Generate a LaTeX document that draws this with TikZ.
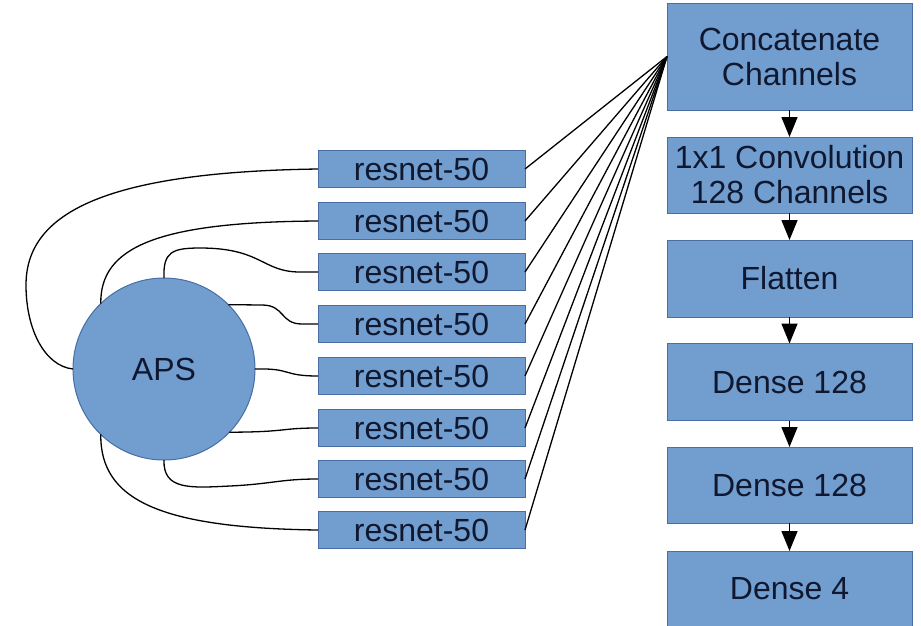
\documentclass[tikz,border=0pt]{standalone}
\usepackage{fontspec}
\setmainfont{Liberation Sans}
\usetikzlibrary{arrows.meta}
\definecolor{boxfill}{RGB}{114,157,207}
\definecolor{boxdraw}{RGB}{72,110,165}
\definecolor{txt}{RGB}{16,24,48}
\begin{document}
\begin{tikzpicture}[x=1pt,y=-1pt,
  every node/.style={font=\fontsize{32}{35}\selectfont, text=txt},
  resbox/.style={draw=boxdraw, fill=boxfill, line width=1pt, minimum width=207pt, minimum height=37pt, inner sep=0pt, outer sep=0pt},
  stackbox/.style={draw=boxdraw, fill=boxfill, line width=1pt, minimum width=245pt, minimum height=77pt, inner sep=0pt, outer sep=0pt, align=center},
  apsnode/.style={circle, draw=boxdraw, fill=boxfill, line width=1pt, minimum size=182pt, inner sep=0pt, outer sep=0pt},
  link/.style={line width=1.3pt, black},
  flow/.style={line width=1.5pt, black, -{Triangle[width=16pt,length=20pt]}}
]
\useasboundingbox (0,0) rectangle (921,625);
\fill[white] (0,0) rectangle (921,625);

% APS
\node[apsnode] (aps) at (164,369) {APS};

% resnet boxes
\node[resbox] (r1) at (421.5,169) {resnet-50};
\node[resbox] (r2) at (421.5,221) {resnet-50};
\node[resbox] (r3) at (421.5,272) {resnet-50};
\node[resbox] (r4) at (421.5,324) {resnet-50};
\node[resbox] (r5) at (421.5,376) {resnet-50};
\node[resbox] (r6) at (421.5,428) {resnet-50};
\node[resbox] (r7) at (421.5,479) {resnet-50};
\node[resbox] (r8) at (421.5,530) {resnet-50};

% right stack
\node[stackbox, minimum height=107pt] (c1) at (789.5,56.5) {Concatenate\\Channels};
\node[stackbox, minimum height=76pt] (c2) at (789.5,175) {1x1 Convolution\\128 Channels};
\node[stackbox] (c3) at (789.5,278.5) {Flatten};
\node[stackbox] (c4) at (789.5,382) {Dense 128};
\node[stackbox, minimum height=76pt] (c5) at (789.5,485) {Dense 128};
\node[stackbox, minimum height=76pt] (c6) at (789.5,589) {Dense 4};

% curves from APS to resnets
\draw[link] (aps.west) .. controls (45,366) and (26,330) .. (26,285)
  .. controls (26,215) and (100,172) .. (r1.west);
\draw[link] (aps.134) .. controls (100,248) and (155,222) .. (r2.west);
\draw[link] (aps.north) .. controls (163,252) and (172,248) .. (200,248)
  .. controls (262,248) and (262,272) .. (300,272) -- (r3.west);
\draw[link] (aps.45) -- (262,305) .. controls (285,305) and (280,324) .. (302,324) -- (r4.west);
\draw[link] (aps.east) .. controls (292,368) and (282,376) .. (r5.west);
\draw[link] (aps.-44) .. controls (288,432) and (280,428) .. (r6.west);
\draw[link] (aps.south) .. controls (163,490) and (190,488) .. (230,486)
  .. controls (272,484) and (280,479) .. (r7.west);
\draw[link] (aps.-134) .. controls (100,500) and (160,528) .. (r8.west);

% fan to concatenate
\foreach \i in {1,...,8} {
  \draw[link] (r\i.east) -- (c1.west);
}

% stack arrows
\draw[flow] (c1.south) -- (c2.north);
\draw[flow] (c2.south) -- (c3.north);
\draw[flow] (c3.south) -- (c4.north);
\draw[flow] (c4.south) -- (c5.north);
\draw[flow] (c5.south) -- (c6.north);
\end{tikzpicture}
\end{document}
